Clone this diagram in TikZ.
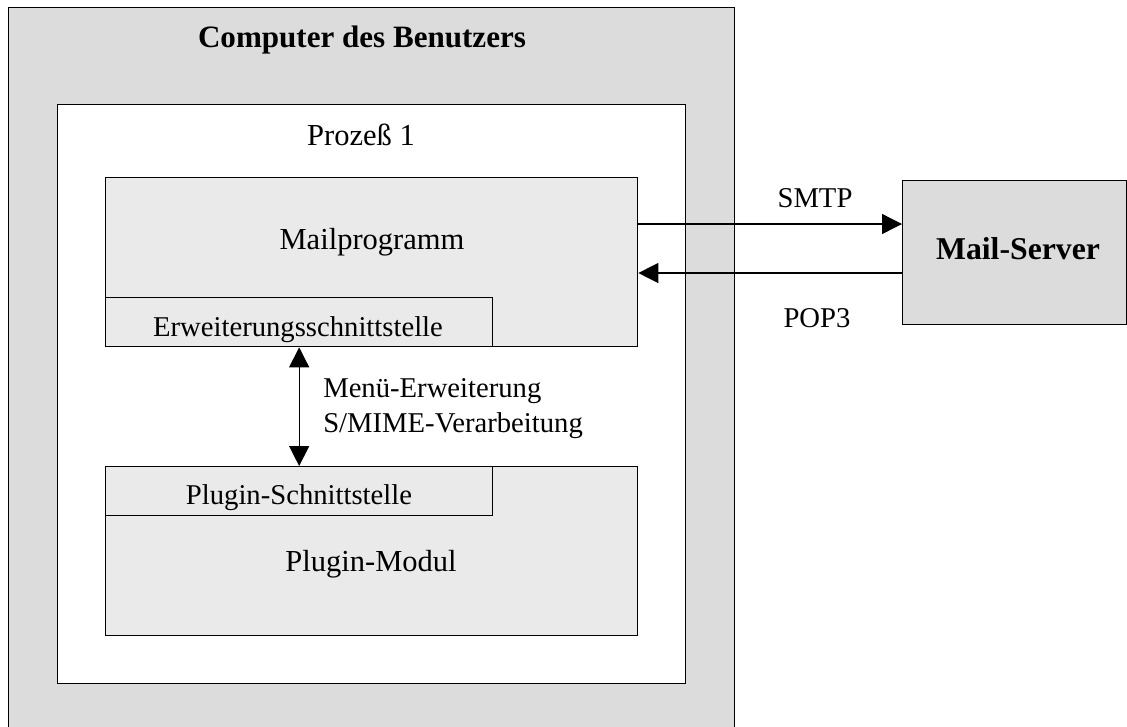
\documentclass[tikz,border=0pt]{standalone}
\usepackage{fontspec}
\setmainfont{Liberation Serif}
\usetikzlibrary{arrows.meta,calc,positioning}
\definecolor{pcgray}{RGB}{220,220,220}
\definecolor{modgray}{RGB}{234,234,234}

\begin{document}
\begin{tikzpicture}[x=0.75pt, y=-0.75pt,
    box/.style={draw, line width=1pt, inner sep=0pt, anchor=north west},
    bigtxt/.style={font=\fontsize{22.9}{27}\selectfont, anchor=base, inner sep=0pt},
    smalltxt/.style={font=\fontsize{21.5}{25}\selectfont, anchor=base, inner sep=0pt},
    headtxt/.style={font=\fontsize{23.3}{27}\selectfont\bfseries, anchor=base, inner sep=0pt},
    link/.style={line width=1pt, -{Triangle[length=15pt, width=15pt]}},
    duallink/.style={line width=1pt, {Triangle[length=15pt, width=15pt]}-{Triangle[length=15pt, width=15pt]}}
  ]
  \useasboundingbox (0,0) rectangle (1127,726);
  \clip (0,0) rectangle (1127,726);

  % computer and process
  \node[box, fill=pcgray, minimum width=726*0.75pt, minimum height=760*0.75pt] (pc) at (8,7) {};
  \node[headtxt] (pctxt) at (362,47) {Computer des Benutzers};
  \node[box, fill=white, minimum width=628*0.75pt, minimum height=579*0.75pt] (proc) at (57,104) {};
  \node[bigtxt] (proctxt) at (361,145) {Prozeß 1};

  % mail program
  \node[box, fill=modgray, minimum width=532*0.75pt, minimum height=169*0.75pt] (mail) at (105,177) {};
  \node[bigtxt] (mailtxt) at (372,249) {Mailprogramm};
  \node[box, fill=modgray, minimum width=387*0.75pt, minimum height=49*0.75pt] (erw) at (105,297) {};
  \node[smalltxt] (erwtxt) at (298,336) {Erweiterungsschnittstelle};

  % plugin
  \node[box, fill=modgray, minimum width=532*0.75pt, minimum height=169*0.75pt] (plug) at (105,466) {};
  \node[bigtxt] (plugtxt) at (371,571) {Plugin-Modul};
  \node[box, fill=modgray, minimum width=387*0.75pt, minimum height=49*0.75pt] (plugsch) at (105,466) {};
  \node[smalltxt] (plugschtxt) at (299,504) {Plugin-Schnittstelle};

  \draw[duallink] (erw.south) -- (plugsch.north);
  \node[smalltxt, anchor=base west] (menu) at (323,397) {Menü-Erweiterung};
  \node[smalltxt, anchor=base west] (smime) at (323,432) {S/MIME-Verarbeitung};

  % server
  \node[box, fill=pcgray, minimum width=224*0.75pt, minimum height=144*0.75pt] (server) at (902,180) {};
  \node[headtxt, font=\fontsize{23.8}{28}\selectfont\bfseries] (servertxt) at (1018,259) {Mail-Server};

  \coordinate (smtpy) at (0,224);
  \coordinate (popy) at (0,273);
  \draw[link] (mail.east |- smtpy) -- (server.west |- smtpy);
  \draw[link] (server.west |- popy) -- (mail.east |- popy);
  \node[smalltxt] (smtp) at (815,207) {SMTP};
  \node[smalltxt] (pop) at (817,327) {POP3};
\end{tikzpicture}
\end{document}
